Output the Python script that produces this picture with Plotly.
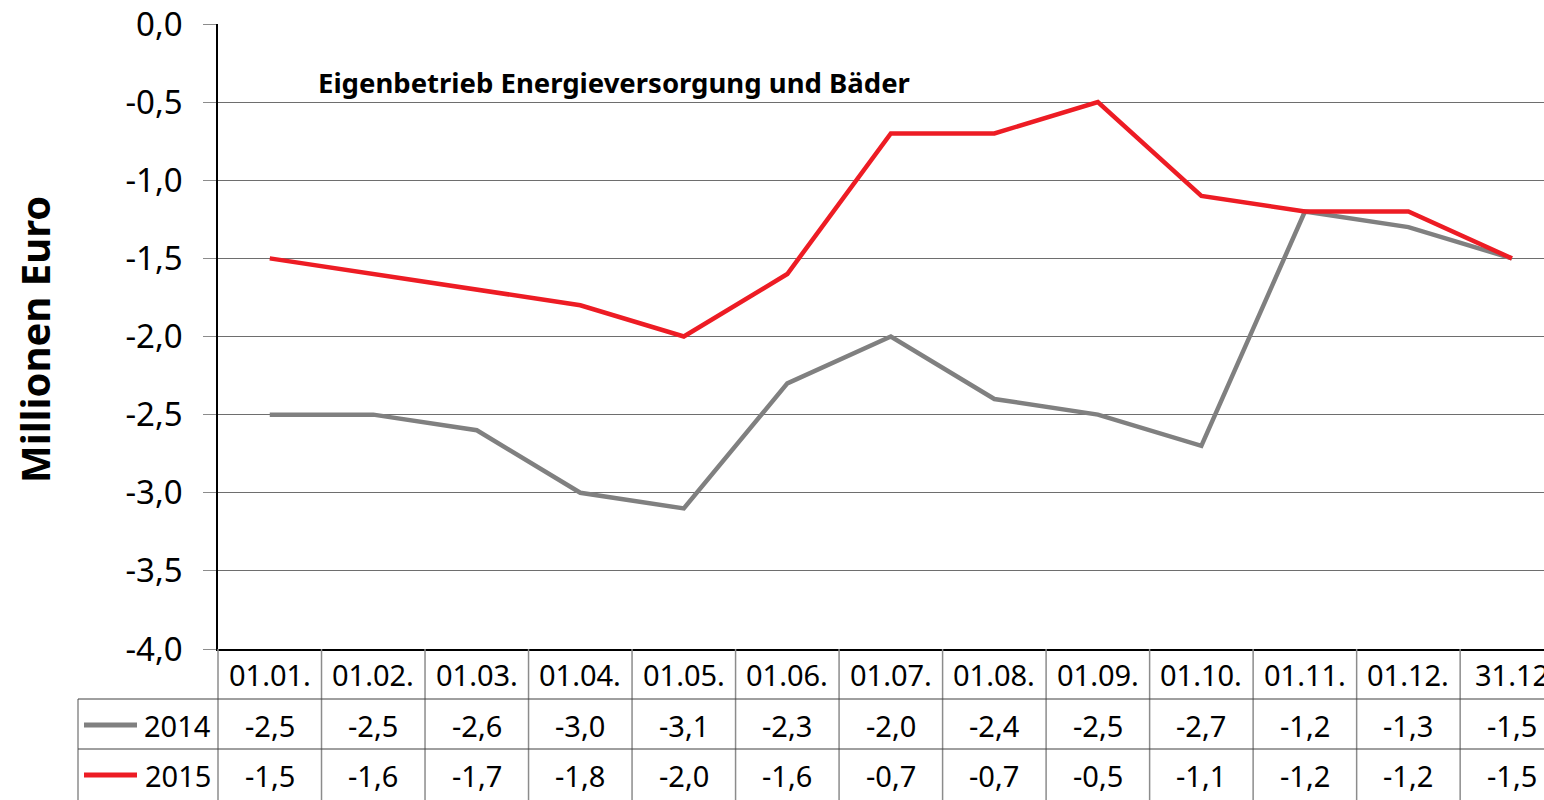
import plotly.graph_objects as go

# Data
categories = ["01.01.", "01.02.", "01.03.", "01.04.", "01.05.", "01.06.", "01.07.",
              "01.08.", "01.09.", "01.10.", "01.11.", "01.12.", "31.12"]
values_2014 = [-2.5, -2.5, -2.6, -3.0, -3.1, -2.3, -2.0, -2.4, -2.5, -2.7, -1.2, -1.3, -1.5]
values_2015 = [-1.5, -1.6, -1.7, -1.8, -2.0, -1.6, -0.7, -0.7, -0.5, -1.1, -1.2, -1.2, -1.5]
y_ticks = [0.0, -0.5, -1.0, -1.5, -2.0, -2.5, -3.0, -3.5, -4.0]
series = [("2014", values_2014, "#808080"), ("2015", values_2015, "#ED1C24")]

FONT = "Noto Sans"
W, H = 1544, 800
ML, MR, MT, MB = 218, 0, 24, 151
PW, PH = W - ML - MR, H - MT - MB
X_RANGE = [-0.5, 12.31]
ROW_H = 50  # table row height in px


def px_x(px):
    return (px - ML) / PW


def px_y(py):
    return (H - MB - py) / PH


def cat_x(i):
    return (i - X_RANGE[0]) / (X_RANGE[1] - X_RANGE[0])


def de_num(v):
    # German decimal comma, plain hyphen as minus sign
    return f"{v:.1f}".replace(".", ",")


fig = go.Figure()
for name, vals, color in series:
    fig.add_trace(go.Scatter(
        x=list(range(len(categories))), y=vals, mode="lines", name=name,
        line=dict(color=color, width=4.5), showlegend=False, cliponaxis=False,
    ))

shapes = []
annotations = []
table_top = H - MB
left_col = 78

# vertical table lines
for i in range(len(categories) + 1):
    shapes.append(dict(type="line", xref="paper", yref="paper",
                       x0=cat_x(i - 0.5), x1=cat_x(i - 0.5),
                       y0=px_y(table_top), y1=px_y(H),
                       line=dict(color="#8c8c8c", width=1.5)))
# legend column left line
shapes.append(dict(type="line", xref="paper", yref="paper",
                   x0=px_x(left_col), x1=px_x(left_col),
                   y0=px_y(table_top + ROW_H), y1=px_y(H),
                   line=dict(color="#8c8c8c", width=1.5)))
# horizontal table lines
for r in (1, 2):
    shapes.append(dict(type="line", xref="paper", yref="paper",
                       x0=px_x(left_col), x1=1,
                       y0=px_y(table_top + r * ROW_H), y1=px_y(table_top + r * ROW_H),
                       line=dict(color="#404040", width=1)))

# header row: categories
for i, c in enumerate(categories):
    annotations.append(dict(x=i, xref="x", y=px_y(table_top + ROW_H / 2), yref="paper",
                            text=c, showarrow=False, xanchor="center", yanchor="middle",
                            font=dict(family=FONT, size=29, color="#000")))

# value rows with legend keys
for r, (name, vals, color) in enumerate(series, start=1):
    yc = table_top + r * ROW_H + ROW_H / 2 + 1
    shapes.append(dict(type="line", xref="paper", yref="paper",
                       x0=px_x(84), x1=px_x(137), y0=px_y(yc), y1=px_y(yc),
                       line=dict(color=color, width=5)))
    annotations.append(dict(x=px_x(213), xref="paper", y=px_y(yc), yref="paper",
                            text=name, showarrow=False, xanchor="right", yanchor="middle",
                            font=dict(family=FONT, size=29, color="#000")))
    for i, v in enumerate(vals):
        annotations.append(dict(x=i, xref="x", y=px_y(yc), yref="paper",
                                text=de_num(v), showarrow=False,
                                xanchor="center", yanchor="middle",
                                font=dict(family=FONT, size=29, color="#000")))

# chart title inside plot area
annotations.append(dict(x=px_x(316), xref="paper", y=px_y(82), yref="paper",
                        text="<b>Eigenbetrieb Energieversorgung und Bäder</b>",
                        showarrow=False, xanchor="left", yanchor="middle",
                        font=dict(family=FONT, size=27.5, color="#000")))
# y axis title
annotations.append(dict(x=px_x(34), xref="paper", y=px_y(340), yref="paper",
                        text="<b>Millionen Euro</b>", textangle=-90,
                        showarrow=False, xanchor="center", yanchor="middle",
                        font=dict(family=FONT, size=40, color="#000")))

fig.update_layout(
    width=W, height=H,
    margin=dict(l=ML, r=MR, t=MT, b=MB, pad=0),
    paper_bgcolor="white", plot_bgcolor="white",
    shapes=shapes, annotations=annotations,
    xaxis=dict(range=X_RANGE, showgrid=False, zeroline=False, showticklabels=False,
               ticks="", showline=True, linecolor="#000", linewidth=1.5),
    yaxis=dict(range=[-4, 0], tickvals=y_ticks, ticktext=[de_num(t) for t in y_ticks],
               showgrid=True, gridcolor="#6e6e6e", gridwidth=1, zeroline=False,
               showline=True, linecolor="#000", linewidth=1.5,
               ticks="outside", ticklen=13, tickcolor="#8c8c8c",
               ticklabelstandoff=14,
               tickfont=dict(family=FONT, size=33, color="#000")),
)

fig.write_html("out.html", config={"displayModeBar": False},
               post_script="document.body.style.margin='0';")
